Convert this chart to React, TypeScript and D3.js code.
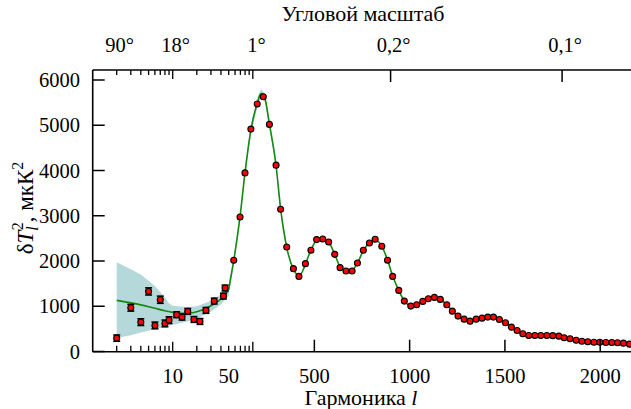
import React from 'react';
import * as d3 from 'd3';

const W = 631;
const H = 409;

// Low multipoles (log part of the axis)
const lowL = [2, 3, 4, 5, 6, 7, 8, 9, 11.2, 13.1, 15.4, 18.4, 21.9, 26, 33, 43, 45];
const lowD = [295, 967, 649, 1328, 576, 1144, 620, 693, 812, 760, 886, 708, 664, 908, 1114, 1224, 1402];
const lowErr = [70, 75, 75, 80, 75, 80, 75, 75, 65, 65, 65, 65, 65, 65, 65, 65, 65];

// Binned high multipoles (linear part of the axis)
const highL = [77, 110, 136, 167, 200, 232, 264, 299, 323, 355, 390, 419, 453, 482, 512, 544, 575, 607, 635, 666,
  698, 726, 757, 789, 819, 854, 884, 911, 943, 972, 1006, 1037, 1069, 1098, 1130, 1161, 1195, 1224, 1254, 1286,
  1317, 1349, 1380, 1410, 1440, 1471, 1503, 1534, 1564, 1594, 1625, 1657, 1688, 1720, 1751, 1783, 1811, 1842, 1874, 1904,
  1935, 1967, 1998, 2030, 2061, 2091, 2122, 2154];
const highD = [2015, 2973, 3947, 4915, 5468, 5630, 5019, 4118, 3144, 2309, 1831, 1660, 1941, 2236, 2473, 2486, 2420, 2147, 1853, 1778,
  1778, 1955, 2236, 2398, 2480, 2325, 2015, 1660, 1350, 1114, 1003, 1033, 1107, 1166, 1196, 1151, 1033, 892, 782, 715,
  671, 715, 737, 760, 760, 708, 635, 538, 465, 392, 354, 354, 354, 354, 350, 339, 303, 281, 250, 228,
  214, 206, 206, 200, 199, 192, 184, 162];

// Best-fit model curve
const theoryL = [2, 3, 4, 5, 6, 8, 10, 13, 16, 20, 25, 30, 35, 40, 45, 50, 60, 77, 110, 136, 167, 200, 220, 240, 264, 299, 323, 355,
  390, 419, 440, 453, 482, 512, 535, 575, 607, 635, 666, 690, 726, 757, 789, 815, 854, 884, 911, 943, 972, 1006, 1037, 1069,
  1098, 1130, 1161, 1195, 1224, 1254, 1286, 1317, 1349, 1380, 1410, 1440, 1471, 1503, 1534, 1564, 1594, 1625, 1657, 1688,
  1720, 1751, 1783, 1811, 1842, 1874, 1904, 1935, 1967, 1998, 2030, 2061, 2091, 2122, 2154, 2200];
const theoryD = [1130, 1075, 1030, 990, 955, 900, 865, 845, 850, 880, 940, 1010, 1080, 1160, 1260, 1380, 1600, 2010, 2980, 3950, 4900, 5480, 5700, 5600, 5030, 4110, 3150, 2300,
  1820, 1680, 1790, 1930, 2240, 2460, 2490, 2410, 2150, 1870, 1780, 1770, 1950, 2230, 2400, 2470, 2330, 2020, 1670, 1350, 1120, 1010, 1035, 1105,
  1165, 1195, 1150, 1035, 895, 785, 715, 680, 710, 740, 760, 755, 705, 630, 540, 465, 395, 360, 350, 350,
  350, 345, 335, 305, 280, 250, 230, 215, 205, 205, 200, 197, 190, 182, 165, 150];

// Cosmic-variance band
const bandL = [2, 3, 4, 6, 8, 9, 10, 15, 20, 30, 40, 50, 77, 110, 136, 167, 200, 220, 240, 264, 299, 323, 355];
const bandLo = [300, 360, 420, 490, 540, 570, 590, 660, 730, 880, 1040, 1230, 1950, 2900, 3860, 4800, 5380, 5600, 5520, 4960, 4060, 3100, 2270];
const bandHi = [1970, 1820, 1700, 1450, 1200, 1060, 1010, 985, 1000, 1120, 1260, 1500, 2080, 3060, 4060, 5020, 5600, 5800, 5700, 5110, 4170, 3200, 2340];

// Axis ticks
const yTicks = [0, 1000, 2000, 3000, 4000, 5000, 6000];
const logTicks = [2, 3, 4, 5, 6, 7, 8, 9, 10, 20, 30, 40, 50, 60, 70, 80, 90, 100];
const logLongTicks = [10, 100];
const bottomLabels = [10, 50, 500, 1000, 1500, 2000];
const linBottomTicks = [500, 1000, 1500, 2000];
const topTicksLin = [900, 1800];
const topLabels = ['90°', '18°', '1°', '0,2°', '0,1°'];
const topLabelL = [2, 10, 180, 900, 1800];

const LEFT = 92.7;
const TOP = 70;
const BOTTOM = 351.7;

const xLog = d3.scaleLog().domain([2, 50]).range([116.7, 228.7]);
const xLin = d3.scaleLinear().domain([50, 2000]).range([228.6, 600.2]);
const x = (l: number) => (l <= 50 ? xLog(l) : xLin(l));
const y = d3.scaleLinear().domain([0, 6000]).range([351.5, 80]);

const FONT = 'Liberation Serif';

export default function App() {
  const line = d3.line<number>().x((_, i) => x(theoryL[i])).y((d) => y(d)).curve(d3.curveMonotoneX);
  const area = d3
    .area<number>()
    .x((_, i) => x(bandL[i]))
    .y0((_, i) => y(bandLo[i]))
    .y1((_, i) => y(bandHi[i]))
    .curve(d3.curveLinear);

  return (
    <svg width={W} height={H} style={{ position: 'absolute', left: 0, top: 0, background: '#fff' }}>
      <path d={area(bandL) || ''} fill="#b5d8da" stroke="none" />
      <path d={line(theoryD) || ''} fill="none" stroke="#128a12" strokeWidth={1.6} />

      {lowL.map((l, i) => {
        const cx = x(l);
        const y1 = y(lowD[i] + lowErr[i]);
        const y2 = y(lowD[i] - lowErr[i]);
        return (
          <g key={'e' + i} stroke="#000" strokeWidth={1.5}>
            <line x1={cx} x2={cx} y1={y1} y2={y2} />
            <line x1={cx - 3.5} x2={cx + 3.5} y1={y1} y2={y1} />
            <line x1={cx - 3.5} x2={cx + 3.5} y1={y2} y2={y2} />
          </g>
        );
      })}
      {lowL.map((l, i) => (
        <circle key={'p' + i} cx={x(l)} cy={y(lowD[i])} r={3} fill="#f00" stroke="#000" strokeWidth={1.1} />
      ))}
      {highL.map((l, i) => (
        <circle key={'h' + i} cx={x(l)} cy={y(highD[i])} r={3} fill="#f00" stroke="#000" strokeWidth={1.1} />
      ))}

      {/* frame */}
      <g stroke="#000" strokeWidth={1.6} fill="none">
        <line x1={LEFT} x2={LEFT} y1={TOP} y2={BOTTOM} />
        <line x1={LEFT} x2={W + 5} y1={TOP} y2={TOP} />
        <line x1={LEFT} x2={W + 5} y1={BOTTOM} y2={BOTTOM} />
      </g>

      {/* y ticks */}
      {yTicks.map((t) => (
        <line key={'yt' + t} x1={LEFT} x2={LEFT + 12} y1={y(t)} y2={y(t)} stroke="#000" strokeWidth={1.5} />
      ))}
      {yTicks.map((t) => (
        <text key={'yl' + t} x={80} y={y(t) + 7} textAnchor="end" fontSize={20.5} fontFamily={FONT}>
          {t}
        </text>
      ))}

      {/* log ticks, bottom and top */}
      {logTicks.map((t) => {
        const long = logLongTicks.includes(t);
        const xx = xLog(t);
        return (
          <g key={'lt' + t} stroke="#000" strokeWidth={1.3}>
            <line x1={xx} x2={xx} y1={BOTTOM} y2={BOTTOM - (long ? 10 : 6)} />
            <line x1={xx} x2={xx} y1={TOP} y2={TOP + (long ? 9 : 5)} />
          </g>
        );
      })}
      {linBottomTicks.map((t) => (
        <line key={'bt' + t} x1={xLin(t)} x2={xLin(t)} y1={BOTTOM} y2={BOTTOM - 12} stroke="#000" strokeWidth={1.5} />
      ))}
      {topTicksLin.map((t) => (
        <line key={'tt' + t} x1={xLin(t)} x2={xLin(t)} y1={TOP} y2={TOP + 12} stroke="#000" strokeWidth={1.5} />
      ))}

      {bottomLabels.map((t) => (
        <text key={'bl' + t} x={t <= 50 ? xLog(t) : xLin(t)} y={383} textAnchor="middle" fontSize={20.5} fontFamily={FONT}>
          {t}
        </text>
      ))}
      {topLabels.map((s, i) => (
        <text key={'tl' + i} x={x(topLabelL[i]) + 3} y={52} textAnchor="middle" fontSize={20.5} fontFamily={FONT}>
          {s}
        </text>
      ))}

      <text x={363} y={21} textAnchor="middle" fontSize={22} fontFamily={FONT}>
        Угловой масштаб
      </text>
      <text x={361} y={405} textAnchor="middle" fontSize={22} fontFamily={FONT}>
        Гармоника <tspan fontStyle="italic" fontFamily={FONT}>l</tspan>
      </text>

      <text transform="translate(33,208) rotate(-90)" textAnchor="middle" fontSize={23} fontFamily={FONT}>
        δ<tspan fontStyle="italic" fontFamily={FONT}>T</tspan>
        <tspan fontSize={16} fontStyle="italic" fontFamily={FONT} dy={5}>l</tspan>
        <tspan fontSize={16} fontFamily={FONT} dx={-4} dy={-15}>2</tspan>
        <tspan fontFamily={FONT} dy={10}>, мкК</tspan>
        <tspan fontSize={16} fontFamily={FONT} dy={-10}>2</tspan>
      </text>
    </svg>
  );
}
